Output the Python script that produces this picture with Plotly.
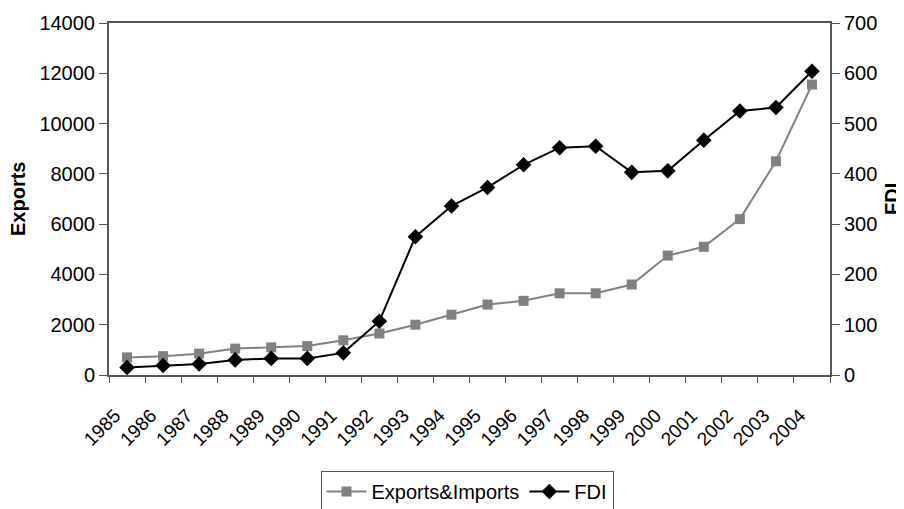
import plotly.graph_objects as go

years = [str(y) for y in range(1985, 2005)]
exports_imports = [700, 750, 850, 1050, 1100, 1150, 1380, 1650, 2000, 2400,
                   2800, 2950, 3250, 3250, 3600, 4750, 5100, 6200, 8500, 11550]
fdi = [15, 19, 22, 30, 33, 33, 44, 107, 275, 336,
       373, 418, 452, 455, 403, 406, 467, 525, 532, 604]
left_ticks = list(range(0, 14001, 2000))
right_ticks = list(range(0, 701, 100))

FONT = "Liberation Sans, Arial, sans-serif"
# page body has an 8px margin, so the figure is laid out 8px smaller/offset
W, H = 896, 501
L, T, R, B = 101, 15, 74, 134
PW = W - L - R

fig = go.Figure()
fig.add_trace(go.Scatter(
    x=years, y=exports_imports, name="Exports&Imports", mode="lines+markers",
    line=dict(color="#808080", width=2),
    marker=dict(symbol="square", size=10, color="#808080"),
    yaxis="y"))
fig.add_trace(go.Scatter(
    x=years, y=fdi, name="FDI", mode="lines+markers",
    line=dict(color="#000000", width=2),
    marker=dict(symbol="diamond", size=12, color="#000000"),
    yaxis="y2"))

fig.update_layout(
    width=W, height=H,
    margin=dict(l=L, r=R, t=T, b=B, autoexpand=False),
    plot_bgcolor="white", paper_bgcolor="white",
    font=dict(family=FONT, size=20, color="#000000"),
    showlegend=True,
    legend=dict(orientation="h", xref="container", yref="container",
                x=(467 - 8) / W, xanchor="center", y=1 - 463 / H, yanchor="top",
                bordercolor="#555555", borderwidth=1,
                font=dict(size=20), itemwidth=40, tracegroupgap=0),
    xaxis=dict(type="category", range=[-0.5, 19.5], tickson="boundaries",
               automargin=False,
               ticks="outside", ticklen=6, tickcolor="#555555",
               showline=True, linecolor="#555555", linewidth=2, mirror=True,
               showgrid=False, tickangle=-45, ticklabelshift=-12,
               ticklabelstandoff=20, tickfont=dict(size=19)),
    yaxis=dict(range=[0, 14000], tickvals=left_ticks,
               ticktext=[str(v) for v in left_ticks], automargin=False,
               ticks="outside", ticklen=8, tickcolor="#555555",
               showline=True, linecolor="#555555", linewidth=2,
               showgrid=False, zeroline=False, tickfont=dict(size=20)),
    yaxis2=dict(range=[0, 700], tickvals=right_ticks,
                ticktext=[str(v) for v in right_ticks], automargin=False,
                overlaying="y", side="right",
                ticks="outside", ticklen=8, tickcolor="#555555",
                showline=True, linecolor="#555555", linewidth=2,
                showgrid=False, zeroline=False, tickfont=dict(size=20)),
    annotations=[
        dict(text="<b>Exports</b>", textangle=-90, xref="paper", yref="paper",
             x=(10 - L) / PW, y=0.5, xanchor="center", yanchor="middle",
             showarrow=False, font=dict(size=20)),
        dict(text="<b>FDI</b>", textangle=-90, xref="paper", yref="paper",
             x=1 + 62 / PW, y=0.5, xanchor="center", yanchor="middle",
             showarrow=False, font=dict(size=20)),
    ],
)

fig.write_html("out.html")
